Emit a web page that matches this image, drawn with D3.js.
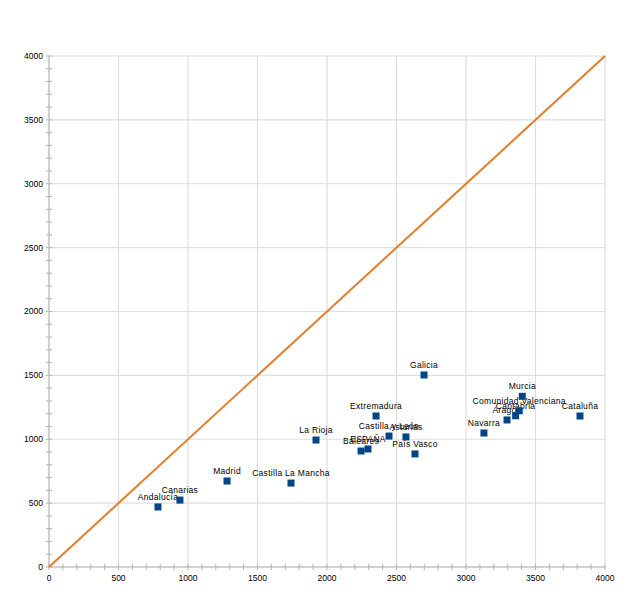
<!DOCTYPE html>
<html>
<head>
<meta charset="utf-8">
<script src="https://cdn.jsdelivr.net/npm/d3@7"></script>
<style>
  body { margin: 0; background: #fff; }
  svg text { font-family: "Liberation Sans", Arial, sans-serif; }
</style>
</head>
<body>
<svg width="640" height="604"></svg>
<script>
// region names and their (x, y) values
var regions = ['Andalucía', 'Canarias', 'Madrid', 'Castilla La Mancha', 'La Rioja',
  'Baleares', 'ESPAÑA', 'Extremadura', 'Castilla y León', 'Asturias', 'País Vasco',
  'Galicia', 'Navarra', 'Aragón', 'Cantabria', 'Comunidad Valenciana', 'Murcia', 'Cataluña'];
var xValues = [784, 942, 1281, 1741, 1921, 2245, 2295, 2353, 2446, 2568, 2633,
  2698, 3129, 3295, 3357, 3383, 3405, 3820];
var yValues = [470, 524, 673, 657, 994, 908, 924, 1182, 1025, 1018, 885,
  1503, 1049, 1151, 1184, 1223, 1336, 1182];

var majorTicks = [0, 500, 1000, 1500, 2000, 2500, 3000, 3500, 4000];
var diagonal = [0, 4000];

var svg = d3.select("svg"),
    margin = {top: 56, right: 35, bottom: 37, left: 49},
    width = +svg.attr("width"),
    height = +svg.attr("height");

var x = d3.scaleLinear().domain([0, 4000]).range([margin.left, width - margin.right]);
var y = d3.scaleLinear().domain([0, 4000]).range([height - margin.bottom, margin.top]);

var minorTicks = d3.range(0, 4001, 100);

// grid lines
svg.append("g").selectAll("line.vgrid")
  .data(majorTicks)
  .enter().append("line")
    .attr("x1", function(d) { return x(d); })
    .attr("x2", function(d) { return x(d); })
    .attr("y1", y(0))
    .attr("y2", y(4000))
    .style("stroke", "#dedede")
    .style("stroke-width", 1.2);

svg.append("g").selectAll("line.hgrid")
  .data(majorTicks)
  .enter().append("line")
    .attr("y1", function(d) { return y(d); })
    .attr("y2", function(d) { return y(d); })
    .attr("x1", x(0))
    .attr("x2", x(4000))
    .style("stroke", "#dedede")
    .style("stroke-width", 1.2);

// axes, with minor ticks every 100
var xAxis = svg.append("g").attr("transform", "translate(0," + y(0) + ")");
xAxis.append("line").attr("x1", x(0)).attr("x2", x(4000)).style("stroke", "#b3b3b3");
xAxis.selectAll("line.tick").data(minorTicks).enter().append("line")
  .attr("x1", function(d) { return x(d); })
  .attr("x2", function(d) { return x(d); })
  .attr("y1", -3).attr("y2", 3)
  .style("stroke", "#b3b3b3");
xAxis.selectAll("text").data(majorTicks).enter().append("text")
  .attr("x", function(d) { return x(d); })
  .attr("y", 14)
  .attr("text-anchor", "middle")
  .style("font-size", "8.5px")
  .text(function(d) { return d; });

var yAxis = svg.append("g").attr("transform", "translate(" + x(0) + ",0)");
yAxis.append("line").attr("y1", y(0)).attr("y2", y(4000)).style("stroke", "#b3b3b3");
yAxis.selectAll("line.tick").data(minorTicks).enter().append("line")
  .attr("y1", function(d) { return y(d); })
  .attr("y2", function(d) { return y(d); })
  .attr("x1", -3).attr("x2", 3)
  .style("stroke", "#b3b3b3");
yAxis.selectAll("text").data(majorTicks).enter().append("text")
  .attr("x", -6)
  .attr("y", function(d) { return y(d); })
  .attr("dy", "0.35em")
  .attr("text-anchor", "end")
  .style("font-size", "8.5px")
  .text(function(d) { return d; });

// the y = x line
svg.append("line")
  .attr("x1", x(diagonal[0])).attr("y1", y(diagonal[0]))
  .attr("x2", x(diagonal[1])).attr("y2", y(diagonal[1]))
  .style("stroke", "#e47d2a")
  .style("stroke-width", 2);

// points and labels
var pts = svg.append("g").selectAll("g")
  .data(regions)
  .enter().append("g")
    .attr("transform", function(d, i) {
      return "translate(" + x(xValues[i]) + "," + y(yValues[i]) + ")";
    });

pts.append("rect")
  .attr("x", -3.5).attr("y", -3.5)
  .attr("width", 7).attr("height", 7)
  .style("fill", "#004586");

pts.append("text")
  .attr("y", -7)
  .attr("text-anchor", "middle")
  .style("font-size", "8.5px")
  .style("letter-spacing", "0.3px")
  .text(function(d) { return d; });
</script>
</body>
</html>
